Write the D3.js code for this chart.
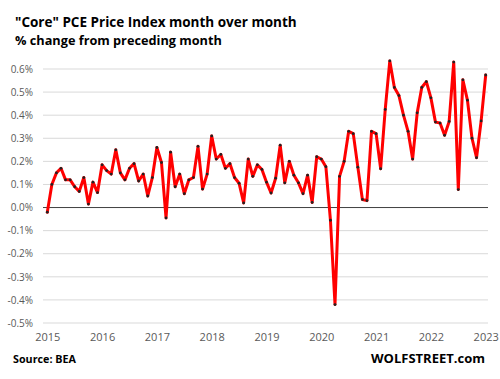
<!DOCTYPE html>
<html><head><meta charset="utf-8">
<script src="https://cdn.jsdelivr.net/npm/d3@7"></script>
<style>
html,body{margin:0;padding:0;background:#fff;}
svg{display:block;font-family:"Open Sans","Liberation Sans",sans-serif;}
</style></head>
<body>
<svg id="chart" width="500" height="379"></svg>
<script>
// Monthly % change, Jan 2015 .. Jan 2023
const startYear = 2015;
const values = [
 -0.02, 0.10, 0.15, 0.17, 0.12, 0.12, 0.09, 0.07, 0.13, 0.015, 0.11, 0.065,   // 2015
  0.185, 0.16, 0.145, 0.25, 0.15, 0.12, 0.17, 0.19, 0.115, 0.145, 0.05, 0.13,  // 2016
  0.26, 0.195, -0.045, 0.24, 0.09, 0.145, 0.06, 0.12, 0.13, 0.265, 0.08, 0.145, // 2017
  0.31, 0.21, 0.23, 0.17, 0.19, 0.13, 0.105, 0.02, 0.21, 0.135, 0.185, 0.165,  // 2018
  0.11, 0.063, 0.127, 0.27, 0.107, 0.20, 0.14, 0.107, 0.06, 0.14, 0.022, 0.22, // 2019
  0.21, 0.177, -0.055, -0.42, 0.135, 0.20, 0.33, 0.32, 0.175, 0.035, 0.03, 0.33, // 2020
  0.32, 0.168, 0.425, 0.635, 0.52, 0.485, 0.40, 0.33, 0.21, 0.41, 0.52, 0.545, // 2021
  0.475, 0.37, 0.366, 0.313, 0.373, 0.63, 0.078, 0.553, 0.465, 0.30, 0.216, 0.375, // 2022
  0.574                                                                       // 2023
];
const yearLabels = ["2015","2016","2017","2018","2019","2020","2021","2022","2023"];
const yTicks = [0.6,0.5,0.4,0.3,0.2,0.1,0.0,-0.1,-0.2,-0.3,-0.4,-0.5];

const title = "\u201CCore\u201D PCE Price Index month over month".replace(/\u201C|\u201D/g,'"');
const subtitle = "% change from preceding month";
const source = "Source: BEA";
const brand = "WOLFSTREET.com";

const svg = d3.select("#chart");
const x = d3.scaleLinear().domain([0, 96]).range([47.3, 485.7]);
const y = d3.scaleLinear().domain([-0.5, 0.6]).range([323, 69]);
const gridX0 = 43, gridX1 = 488;

// gridlines
const grid = svg.append("g");
grid.selectAll("line").data(yTicks.filter(d => d !== 0)).join("line")
  .attr("x1", gridX0).attr("x2", gridX1)
  .attr("y1", d => y(d)).attr("y2", d => y(d))
  .attr("stroke", "#d9d9d9").attr("stroke-width", 1);

// y axis labels via d3 axis
const yAxis = d3.axisLeft(y).tickValues(yTicks).tickSize(0).tickPadding(0)
  .tickFormat(d => d3.format(".1f")(d).replace("\u2212","-") + "%");
const ya = svg.append("g").attr("transform", "translate(33,0)").call(yAxis);
ya.select(".domain").remove();
ya.selectAll("text").attr("fill", "#595959").attr("font-size", 10)
  .attr("font-family", "'Open Sans','Liberation Sans',sans-serif");

// zero line
svg.append("line").attr("x1", gridX0).attr("x2", gridX1)
  .attr("y1", y(0)).attr("y2", y(0)).attr("stroke", "#404040").attr("stroke-width", 1);

// x axis labels
const xAxis = d3.axisBottom(x).tickValues(yearLabels.map((d, i) => i * 12))
  .tickSize(0).tickPadding(0).tickFormat((d, i) => yearLabels[i]);
const xa = svg.append("g").attr("transform", "translate(0,333)").call(xAxis);
xa.select(".domain").remove();
xa.selectAll("text").attr("fill", "#595959").attr("font-size", 11)
  .attr("font-family", "'Open Sans','Liberation Sans',sans-serif");

// line
const line = d3.line().x((d, i) => x(i)).y(d => y(d));
svg.append("path").datum(values).attr("d", line)
  .attr("fill", "none").attr("stroke", "#ff0000").attr("stroke-width", 3)
  .attr("stroke-linejoin", "round").attr("stroke-linecap", "round");
svg.append("g").selectAll("circle").data(values).join("circle")
  .attr("cx", (d, i) => x(i)).attr("cy", d => y(d)).attr("r", 1.4).attr("fill", "#222");

// text helper: fit to width
function fitText(t, x0, yb, size, weight, target, anchor) {
  const el = svg.append("text").attr("x", x0).attr("y", yb)
    .attr("font-size", size).attr("font-weight", weight).attr("fill", "#000")
    .attr("text-anchor", anchor || "start").text(t);
  const w = el.node().getComputedTextLength();
  if (w > 0) el.attr("font-size", size * target / w);
  return el;
}
fitText(title, 15, 27, 17, "bold", 282);
fitText(subtitle, 15, 45, 12, "bold", 207);
fitText(source, 13, 363, 11, "bold", 63);
fitText(brand, 485, 363, 14, "bold", 114, "end");
</script>
</body></html>
